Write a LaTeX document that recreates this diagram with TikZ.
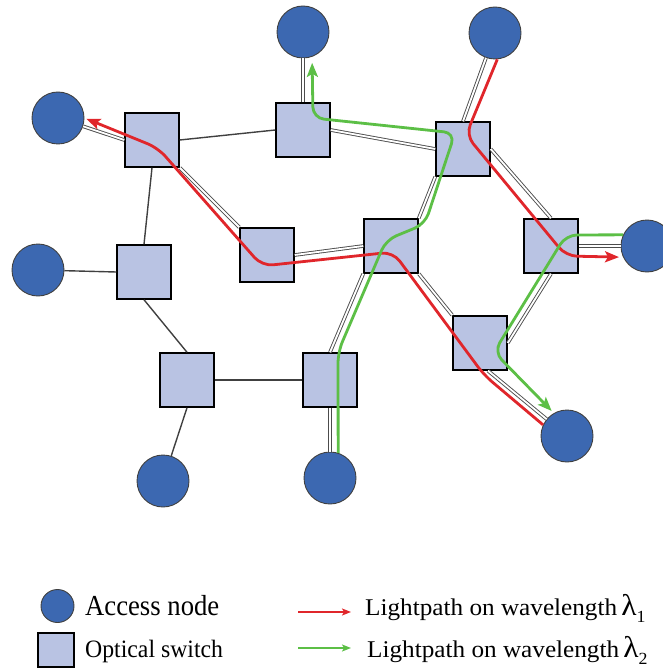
\documentclass[tikz,border=0pt]{standalone}
\usepackage{fontspec}
\setmainfont{Liberation Serif}
\usetikzlibrary{arrows.meta,calc}
\definecolor{acc}{HTML}{3C68B1}
\definecolor{sw}{HTML}{B9C3E3}
\definecolor{lred}{HTML}{E0262B}
\definecolor{lgreen}{HTML}{5CBF46}
\begin{document}
\begin{tikzpicture}[x=1pt,y=-1pt,
  access/.style={circle,fill=acc,draw=black!75,line width=0.9pt,minimum size=52pt,inner sep=0pt},
  switch/.style={rectangle,fill=sw,draw=black,line width=1.5pt,minimum size=54pt,inner sep=0pt},
  link/.style={draw=black!75,line width=1.4pt},
  dlink/.style={draw=black!70,line width=0.9pt,double=white,double distance=1.8pt},
  lpath/.style={line width=2.8pt,rounded corners=11pt,-{Stealth[length=14pt,width=11pt,inset=3pt]}},
  redpath/.style={lpath,draw=lred},
  greenpath/.style={lpath,draw=lgreen},
  legarrow/.style={line width=1.4pt,-{Stealth[length=9pt,width=7pt,inset=2pt]}}
]
\useasboundingbox (0,0) rectangle (662,668);
% access nodes
\node[access] (A1) at (58,118) {};
\node[access] (A2) at (303,32) {};
\node[access] (A3) at (495,33) {};
\node[access] (A4) at (38,270) {};
\node[access] (A5) at (647,246) {};
\node[access] (A6) at (163,481) {};
\node[access] (A7) at (330,478) {};
\node[access] (A8) at (567,436) {};
% optical switches
\node[switch] (S1) at (152,140) {};
\node[switch] (S2) at (303,130) {};
\node[switch] (S3) at (267,255) {};
\node[switch] (S4) at (144,272) {};
\node[switch] (S5) at (187,380) {};
\node[switch] (S6) at (330,380) {};
\node[switch] (S7) at (391,246) {};
\node[switch] (S8) at (463,149) {};
\node[switch] (S9) at (551,246) {};
\node[switch] (S10) at (480,343) {};
% plain links
\draw[link] (S1.east) -- (S2.west);
\draw[link] (S1.south) -- (S4.north);
\draw[link] (S4.west) -- (A4);
\draw[link] (S4.south) -- (S5.north);
\draw[link] (S5.east) -- (S6.west);
\draw[link] (S5.south) -- (A6);
% links carrying lightpaths
\draw[dlink] (S1.west) -- (A1);
\draw[dlink] (S2.north) -- (A2);
\draw[dlink] (S8.north) -- (A3);
\draw[dlink] (S2.east) -- (S8.west);
\draw[dlink] (S1.south east) -- (S3.north west);
\draw[dlink] (S3.east) -- (S7.west);
\draw[dlink] (S7.north east) -- (S8.south west);
\draw[dlink] (S8.east) -- (S9.north);
\draw[dlink] (S9.east) -- (A5);
\draw[dlink] (S7.south east) -- (S10.north west);
\draw[dlink] (S9.south) -- (S10.east);
\draw[dlink] ([xshift=8pt]S10.south) -- (A8);
\draw[dlink] (S6.north) -- (S7.south west);
\draw[dlink] (S6.south) -- (A7);
% lightpaths on wavelength 1
\draw[redpath,shorten >=4pt] (A3.-85) -- (466,135) -- (566,256) -- (A5.205);
\draw[redpath,shorten >=2pt] (A8.155) -- (484,375) -- (393,252) -- (262,266) -- (158,148) -- (A1.east);
% lightpaths on wavelength 2
\draw[greenpath,shorten >=6pt] (A7.72) -- (338,352) -- (386,240) -- (425,224) -- (455,133) -- (313,118) -- (A2.-70);
\draw[greenpath,shorten >=3pt] (A5.155) -- (566,235) -- (494,352) -- (A8.120);
% legend
\node[access,minimum size=33pt] (LA) at (57.5,606) {};
\node[switch,minimum width=36pt,minimum height=34pt,line width=1.2pt] (LS) at (56,650) {};
\node[anchor=base west,inner sep=0pt,font=\fontsize{29}{30}\selectfont,xscale=0.92] (LTA) at (85,615) {Access node};
\node[anchor=base west,inner sep=0pt,font=\fontsize{25}{26}\selectfont,xscale=0.95] (LTS) at (85,657) {Optical switch};
\coordinate (LR1) at (298,612);
\coordinate (LR2) at (351,612);
\coordinate (LG1) at (298,648);
\coordinate (LG2) at (351,648);
\draw[legarrow,draw=lred] (LR1) -- (LR2);
\draw[legarrow,draw=lgreen] (LG1) -- (LG2);
\node[anchor=base west,inner sep=0pt,font=\fontsize{24}{25}\selectfont,xscale=1.05] (LT1) at (365,615) {Lightpath on wavelength\,{\fontsize{30}{30}\selectfont λ}\raisebox{-0.3em}{\fontsize{17}{17}\selectfont 1}};
\node[anchor=base west,inner sep=0pt,font=\fontsize{24}{25}\selectfont,xscale=1.05] (LT2) at (367,657) {Lightpath on wavelength\,{\fontsize{30}{30}\selectfont λ}\raisebox{-0.3em}{\fontsize{17}{17}\selectfont 2}};
\end{tikzpicture}
\end{document}
